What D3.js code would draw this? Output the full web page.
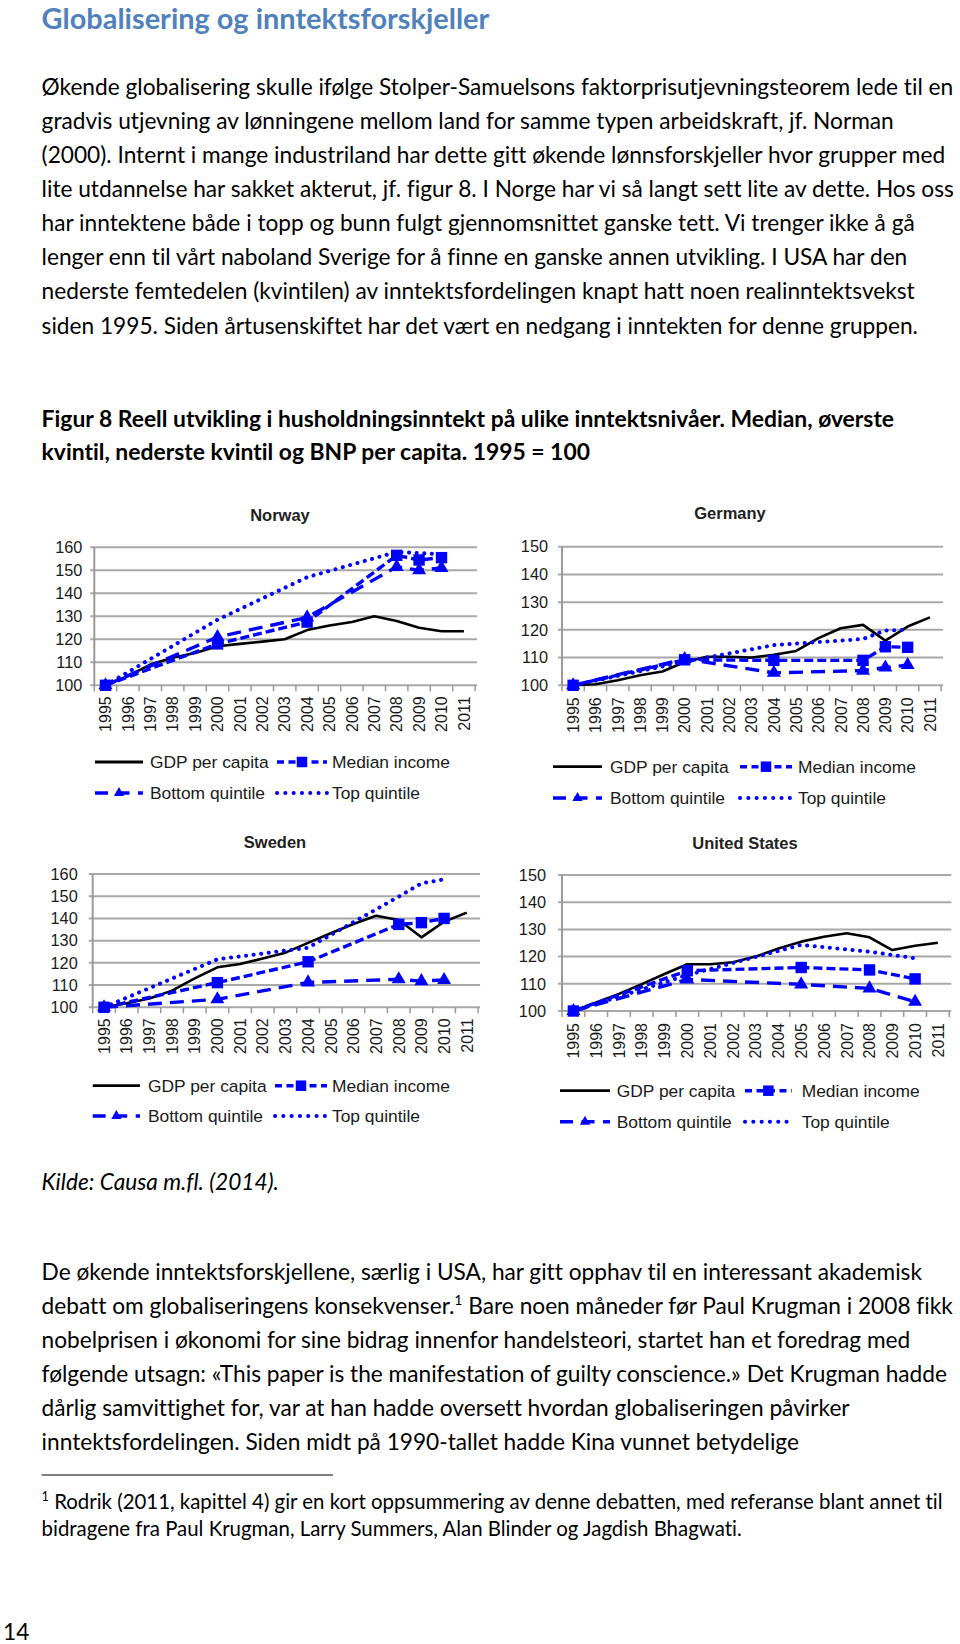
<!DOCTYPE html>
<html><head><meta charset="utf-8">
<script src="https://cdn.jsdelivr.net/npm/d3@7"></script>
<style>body{margin:0;background:#fff} svg{display:block} text{font-variant-ligatures:none;font-feature-settings:"liga" 0,"clig" 0}</style>
</head><body>
<svg id="page" width="960" height="1644"></svg>
<script>
// ---------------- DATA ----------------
const years = ["1995","1996","1997","1998","1999","2000","2001","2002","2003","2004","2005","2006","2007","2008","2009","2010","2011"];
const ticks160 = [100,110,120,130,140,150,160];
const ticks150 = [100,110,120,130,140,150];
const seriesNames = ["GDP per capita","Median income","Bottom quintile","Top quintile"];
const _ = null;

const norwayGdp    = [100,104,109,112,114,117,118,119,120,124,126,127.5,130,128,125,123.5,123.5];
const norwayMedian = [100,_,_,_,_,118,_,_,_,127.5,_,_,_,156.5,154.5,155.5,_];
const norwayBottom = [100,_,_,_,_,121,_,_,_,129.5,_,_,_,151.5,150,151,_];
const norwayTop    = [100,_,_,_,_,128.5,_,_,_,147,_,_,_,158,157.5,157,_];

const germanyGdp    = [100,100.4,101.8,103.6,105,108.4,110.3,110.3,110,111,112.4,117,120.6,121.8,116.1,121.2,124.5];
const germanyMedian = [100,_,_,_,_,109.2,_,_,_,109,_,_,_,109,113.9,113.7,_];
const germanyBottom = [100,_,_,_,_,109.5,_,_,_,104.5,_,_,_,105.3,106.4,107.3,_];
const germanyTop    = [100,_,_,_,_,108.5,_,_,_,114.5,_,_,_,116.7,119.8,120,_];

const swedenGdp    = [100,101.8,104,107.5,113,118,119.5,122,124.6,129,133.3,137.5,141.2,139.3,131.5,138.5,142.6];
const swedenMedian = [100,_,_,_,_,111.1,_,_,_,120.5,_,_,_,137.3,138.1,140,_];
const swedenBottom = [100,_,_,_,_,103.6,_,_,_,111.2,_,_,_,112.6,111.8,112.3,_];
const swedenTop    = [100,_,_,_,_,121.6,_,_,_,126.8,_,_,_,149.8,155.8,157.6,_];

const usGdp    = [100,103.1,106.3,109.9,113.6,117.2,117.2,117.9,120,123,125.5,127.3,128.6,127.1,122.4,124,125.1];
const usMedian = [100,_,_,_,_,114.8,_,_,_,_,116,_,_,115.1,_,111.8,_];
const usBottom = [100,_,_,_,_,111.6,_,_,_,_,109.8,_,_,108.3,_,103.4,_];
const usTop    = [100,_,_,_,_,113.2,_,_,_,_,124.3,_,_,121.8,_,119.4,_];

const pageTitle = "Globalisering og inntektsforskjeller";
const para1 = [
"Økende globalisering skulle ifølge Stolper-Samuelsons faktorprisutjevningsteorem lede til en",
"gradvis utjevning av lønningene mellom land for samme typen arbeidskraft, jf. Norman",
"(2000). Internt i mange industriland har dette gitt økende lønnsforskjeller hvor grupper med",
"lite utdannelse har sakket akterut, jf. figur 8. I Norge har vi så langt sett lite av dette. Hos oss",
"har inntektene både i topp og bunn fulgt gjennomsnittet ganske tett. Vi trenger ikke å gå",
"lenger enn til vårt naboland Sverige for å finne en ganske annen utvikling. I USA har den",
"nederste femtedelen (kvintilen) av inntektsfordelingen knapt hatt noen realinntektsvekst",
"siden 1995. Siden årtusenskiftet har det vært en nedgang i inntekten for denne gruppen."
];
const caption = [
"Figur 8 Reell utvikling i husholdningsinntekt på ulike inntektsnivåer. Median, øverste",
"kvintil, nederste kvintil og BNP per capita. 1995 = 100"
];
const sourceText = "Kilde: Causa m.fl. (2014).";
const para2 = [
["De økende inntektsforskjellene, særlig i USA, har gitt opphav til en interessant akademisk"],
["debatt om globaliseringens konsekvenser.", "1", "  Bare noen måneder før Paul Krugman i 2008 fikk"],
["nobelprisen i økonomi for sine bidrag innenfor handelsteori, startet han et foredrag med"],
["følgende utsagn: «This paper is the manifestation of guilty conscience.» Det Krugman hadde"],
["dårlig samvittighet for, var at han hadde oversett hvordan globaliseringen påvirker"],
["inntektsfordelingen. Siden midt på 1990-tallet hadde Kina vunnet betydelige"]
];
const footnote = [
["", "1", " Rodrik (2011, kapittel 4) gir en kort oppsummering av denne debatten, med referanse blant annet til"],
["bidragene fra Paul Krugman, Larry Summers, Alan Blinder og Jagdish Bhagwati."]
];
const pageNumber = "14";

// ---------------- DRAWING ----------------
const svg = d3.select("#page");
svg.append("rect").attr("width",960).attr("height",1644).attr("fill","#fff");
const TEXT_FONT = "Lato, 'Open Sans', sans-serif";
const CHART_FONT = "'Liberation Sans', Arial, sans-serif";
const BLUE = "#0000ff";

function fitSize(str, weight, style, target) {
  const t = svg.append("text").attr("font-family",TEXT_FONT).attr("font-size",20)
    .attr("font-weight",weight).attr("font-style",style).text(str);
  const w = t.node().getComputedTextLength();
  t.remove();
  return 20 * target / w;
}

const bodySize = fitSize(para1[0], "normal", "normal", 912);
const titleSize = fitSize(pageTitle, "bold", "normal", 448);
const capSize = fitSize(caption[0], "bold", "normal", 853);

function textLine(str, y, size, opts={}) {
  return svg.append("text").attr("x", opts.x ?? 41.6).attr("y", y + 0.3*size)
    .attr("font-family",TEXT_FONT).attr("font-size",size)
    .attr("font-weight",opts.weight||"normal").attr("font-style",opts.style||"normal")
    .attr("fill",opts.fill||"#000").text(str);
}
function richLine(parts, y, size) {
  const t = svg.append("text").attr("x",41.6).attr("y",y+0.3*size)
    .attr("font-family",TEXT_FONT).attr("font-size",size).attr("fill","#000");
  parts.forEach((p,i)=>{
    const ts = t.append("tspan").text(p);
    if (i===1) ts.attr("font-size",size*0.62).attr("dy",-size*0.38);
    if (i===2) ts.attr("dy",size*0.38);
  });
  return t;
}

textLine(pageTitle, 20, titleSize, {weight:"bold", fill:"#4f81bd"});
para1.forEach((l,i)=> textLine(l, 88 + i*34.1, bodySize));
caption.forEach((l,i)=> textLine(l, 420 + i*33.5, capSize, {weight:"bold"}));
textLine(sourceText, 1183, bodySize, {style:"italic"});
para2.forEach((p,i)=> richLine(p, 1273.3 + i*34, bodySize));
svg.append("line").attr("x1",41.6).attr("x2",333).attr("y1",1475).attr("y2",1475)
  .attr("stroke","#000").attr("stroke-width",1.2);
const fnSize = bodySize*0.9;
footnote.forEach((p,i)=> richLine(p, 1502.7 + i*27.3, fnSize));
textLine(pageNumber, 1633, bodySize, {x:3});

// ---------- charts ----------
function drawChart(cfg) {
  const g = svg.append("g");
  const x = d3.scaleBand().domain(years).range([cfg.x0, cfg.x0 + cfg.band*years.length]);
  const y = d3.scaleLinear().domain([100, cfg.yMax]).range([cfg.yBottom, cfg.yTop]);
  const cx = d => x(d) + x.bandwidth()/2;
  const cg = g.append("g");

  // title
  cg.append("text").attr("x",cfg.titleX).attr("y",cfg.titleY).attr("text-anchor","middle")
    .attr("dominant-baseline","central").attr("font-family",CHART_FONT).attr("font-weight","bold")
    .attr("font-size",16.5).attr("fill","#222").text(cfg.name);

  // gridlines
  cg.selectAll(".grid").data(cfg.ticks).join("line")
    .attr("x1",cfg.x0-4).attr("x2",cfg.x0 + cfg.band*years.length + 2)
    .attr("y1",d=>y(d)).attr("y2",d=>y(d)).attr("stroke","#a8a8a8").attr("stroke-width",2);
  // y-axis line
  cg.append("line").attr("x1",cfg.x0).attr("x2",cfg.x0).attr("y1",y(cfg.yMax)).attr("y2",y(100))
    .attr("stroke","#999").attr("stroke-width",2);
  // y labels
  const ya = cg.append("g").attr("transform",`translate(${cfg.x0},0)`)
    .call(d3.axisLeft(y).tickValues(cfg.ticks).tickSize(0).tickPadding(cfg.yPad));
  ya.select(".domain").remove();
  ya.selectAll("text").attr("font-family",CHART_FONT).attr("font-size",16.3).attr("fill","#1a1a1a");

  // x tick marks at band boundaries
  cg.selectAll(".xt").data(d3.range(years.length+1)).join("line")
    .attr("x1",i=>cfg.x0+i*cfg.band).attr("x2",i=>cfg.x0+i*cfg.band)
    .attr("y1",y(100)).attr("y2",y(100)+6).attr("stroke","#999").attr("stroke-width",1.5);
  // x labels
  const xa = cg.append("g").attr("transform",`translate(0,${y(100)})`)
    .call(d3.axisBottom(x).tickSize(0));
  xa.select(".domain").remove();
  xa.selectAll("text").attr("font-family",CHART_FONT).attr("font-size",16).attr("fill","#1a1a1a")
    .attr("transform","rotate(-90)").attr("text-anchor","end")
    .attr("x",-cfg.xPad).attr("y",0).attr("dy","0.36em");

  // series
  const mk = arr => years.map((yr,i)=>({year:yr, v:arr[i]})).filter(d=>d.v!==null);
  const line = d3.line().x(d=>cx(d.year)).y(d=>y(d.v));
  const gdp = mk(cfg.gdp), med = mk(cfg.median), bot = mk(cfg.bottom), top = mk(cfg.top);
  cg.append("path").datum(gdp).attr("d",line).attr("fill","none").attr("stroke","#000").attr("stroke-width",2.6).attr("stroke-linejoin","round");
  cg.append("path").datum(top).attr("d",line).attr("fill","none").attr("stroke",BLUE).attr("stroke-width",4)
    .attr("stroke-dasharray","0.1,7.5").attr("stroke-linecap","round");
  cg.append("path").datum(med).attr("d",line).attr("fill","none").attr("stroke",BLUE).attr("stroke-width",3.4)
    .attr("stroke-dasharray","9,4");
  cg.append("path").datum(bot).attr("d",line).attr("fill","none").attr("stroke",BLUE).attr("stroke-width",3.4)
    .attr("stroke-dasharray","14,8");
  const sq = d3.symbol(d3.symbolSquare, 130), tri = d3.symbol(d3.symbolTriangle, 85);
  cg.selectAll(".mb").data(bot).join("path").attr("d",tri)
    .attr("transform",d=>`translate(${cx(d.year)},${y(d.v)})`).attr("fill",BLUE);
  cg.selectAll(".mm").data(med).join("path").attr("d",sq)
    .attr("transform",d=>`translate(${cx(d.year)},${y(d.v)})`).attr("fill",BLUE);

  // legend
  const L = cfg.legend;
  const items = [
    {name:seriesNames[0], row:0, col:0},
    {name:seriesNames[1], row:0, col:1},
    {name:seriesNames[2], row:1, col:0},
    {name:seriesNames[3], row:1, col:1}
  ];
  items.forEach((it,k)=>{
    const ry = L.rows[it.row];
    const lx0 = it.col===0 ? L.c0[0] : L.c1[0];
    const lx1 = it.col===0 ? L.c0[1] : L.c1[1];
    const tx  = it.col===0 ? L.c0[2] : L.c1[2];
    const ln = cg.append("line").attr("x1",lx0).attr("x2",lx1).attr("y1",ry).attr("y2",ry).attr("fill","none");
    if (k===0) ln.attr("stroke","#000").attr("stroke-width",2.8);
    if (k===1) { ln.attr("stroke",BLUE).attr("stroke-width",3.4).attr("stroke-dasharray","7,4.5");
      cg.append("path").attr("d",d3.symbol(d3.symbolSquare,110)).attr("transform",`translate(${(lx0+lx1)/2},${ry})`).attr("fill",BLUE); }
    if (k===2) { ln.attr("stroke",BLUE).attr("stroke-width",3.4).attr("stroke-dasharray","13,8.5");
      cg.append("path").attr("d",d3.symbol(d3.symbolTriangle,45)).attr("transform",`translate(${(lx0+lx1)/2},${ry})`).attr("fill",BLUE); }
    if (k===3) ln.attr("stroke",BLUE).attr("stroke-width",4).attr("stroke-dasharray","0.1,8.2").attr("stroke-linecap","round");
    cg.append("text").attr("x",tx).attr("y",ry).attr("dominant-baseline","central")
      .attr("font-family",CHART_FONT).attr("font-size",17.4).attr("fill","#1a1a1a").text(it.name);
  });
}

drawChart({id:"no", name:"Norway", gdp:norwayGdp, median:norwayMedian, bottom:norwayBottom, top:norwayTop,
  ticks:ticks160, yMax:160, x0:94.3, band:22.4, yTop:547.3, yBottom:685.3, titleX:280, titleY:515,
  yPad:12, xPad:11,
  legend:{rows:[762,793], c0:[95,143,150], c1:[277,327,332]}});
drawChart({id:"de", name:"Germany", gdp:germanyGdp, median:germanyMedian, bottom:germanyBottom, top:germanyTop,
  ticks:ticks150, yMax:150, x0:562, band:22.3, yTop:546.7, yBottom:685.3, titleX:730, titleY:513,
  yPad:14, xPad:12,
  legend:{rows:[766.7,798], c0:[553,602,610], c1:[740,792,798]}});
drawChart({id:"se", name:"Sweden", gdp:swedenGdp, median:swedenMedian, bottom:swedenBottom, top:swedenTop,
  ticks:ticks160, yMax:160, x0:92.7, band:22.67, yTop:874, yBottom:1007.3, titleX:275, titleY:841.7,
  yPad:15, xPad:11,
  legend:{rows:[1085.7,1116], c0:[92.7,140,148], c1:[275,327,332]}});
drawChart({id:"us", name:"United States", gdp:usGdp, median:usMedian, bottom:usBottom, top:usTop,
  ticks:ticks150, yMax:150, x0:562, band:22.78, yTop:875, yBottom:1011, titleX:745, titleY:843.3,
  yPad:16, xPad:12,
  legend:{rows:[1090.7,1121.7], c0:[560,610,616.7], c1:[745,791.7,801.7]}});
</script>
</body></html>
